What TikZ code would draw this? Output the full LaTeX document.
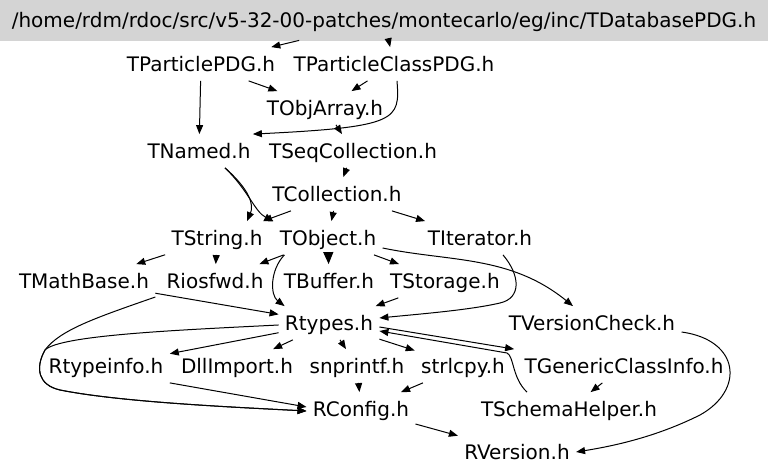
\documentclass[tikz,border=0pt]{standalone}
\usepackage{fontspec}
\setmainfont{DejaVu Sans}
\usetikzlibrary{arrows.meta}

\begin{document}
\begin{tikzpicture}[x=0.5pt, y=-0.5pt,
  font=\fontsize{10pt}{12pt}\selectfont,
  hdr/.style={fill=black!17, draw=black!17, minimum width=384pt, minimum height=20pt, inner sep=0pt, text height=10pt, text depth=2pt},
  inc/.style={minimum height=16.5pt, inner xsep=3pt, inner ysep=0pt, text height=10pt, text depth=2pt},
  arr/.style={-{Triangle[length=4.5pt,width=3.5pt]}, line width=0.5pt},
  fat/.style={-{Triangle[length=6pt,width=5pt]}, line width=0.5pt}]
\useasboundingbox (0,0) rectangle (768,475);
% --- header file
\node[hdr] (root) at (384,20) {/home/rdm/rdoc/src/v5-32-00-patches/montecarlo/eg/inc/TDatabasePDG.h};
% --- included headers, rank by rank
\node[inc] (particle) at (201,64) {TParticlePDG.h};
\node[inc] (partclass) at (394,64) {TParticleClassPDG.h};
\node[inc] (objarray) at (325,108) {TObjArray.h};
\node[inc] (named) at (199,151) {TNamed.h};
\node[inc] (seqcoll) at (353,151) {TSeqCollection.h};
\node[inc] (coll) at (337,194) {TCollection.h};
\node[inc] (string) at (217,238) {TString.h};
\node[inc] (object) at (328,238) {TObject.h};
\node[inc] (iterator) at (480,238) {TIterator.h};
\node[inc] (mathbase) at (84,281) {TMathBase.h};
\node[inc] (iosfwd) at (215,281) {Riosfwd.h};
\node[inc] (buffer) at (329,281) {TBuffer.h};
\node[inc] (storage) at (445,281) {TStorage.h};
\node[inc] (rtypes) at (329,323) {Rtypes.h};
\node[inc] (versioncheck) at (592,323) {TVersionCheck.h};
\node[inc] (typeinfo) at (106,366) {Rtypeinfo.h};
\node[inc] (dllimport) at (237,366) {DllImport.h};
\node[inc] (snprintf) at (357,366) {snprintf.h};
\node[inc] (strlcpy) at (463,366) {strlcpy.h};
\node[inc] (genclass) at (624,366) {TGenericClassInfo.h};
\node[inc] (rconfig) at (361,409) {RConfig.h};
\node[inc] (schema) at (569,409) {TSchemaHelper.h};
\node[inc] (rversion) at (517,452) {RVersion.h};
% --- include edges
\draw[arr] (root) -- (particle);
\draw[arr] (root) -- (partclass);
\draw[arr] (particle) -- (named);
\draw[arr] (particle) -- (objarray);
\draw[arr] (partclass) -- (objarray);
\draw[arr] ([xshift=1.5pt]partclass.south) .. controls (400,120) and (398,127) .. ([xshift=-2pt]named.north east);
\draw[arr] (objarray) -- (seqcoll);
\draw[arr] ([xshift=13pt]named.south) .. controls (250,190) and (254,205) .. ([xshift=15pt]string.north);
\draw[arr] ([xshift=13pt]named.south) .. controls (248,190) and (255,212) .. (object.north west);
\draw[arr] (seqcoll) -- (coll);
\draw[arr] (coll) -- (string);
\draw[arr] (coll) -- (object);
\draw[arr] (coll) -- (iterator);
\draw[arr] (string) -- (mathbase);
\draw[arr] (string) -- (iosfwd);
\draw[arr] (object) -- (iosfwd);
\draw[arr] ([xshift=5.5pt]object.south west) .. controls (270,270) and (270,295) .. ([xshift=3pt]rtypes.north west);
\draw[fat] (object) -- (buffer);
\draw[arr] (object) -- (storage);
\draw[arr] ([yshift=-5pt]object.east) .. controls (450,262) and (510,255) .. ([xshift=-9.5pt]versioncheck.north);
\draw[arr] ([xshift=11.5pt]iterator.south) .. controls (520,275) and (522,298) .. (500,303) .. controls (470,310) and (420,314) .. ([yshift=2.5pt]rtypes.east);
\draw[arr] (storage) -- (rtypes);
\draw[arr] (mathbase) -- (rtypes);
\draw[arr] ([yshift=-8pt]mathbase.east) .. controls (95,318) and (60,330) .. (45,350) .. controls (35,368) and (38,385) .. (60,390) .. controls (120,402) and (230,407) .. ([yshift=-1pt]rconfig.west);
\draw[arr] ([yshift=-1pt]rtypes.west) .. controls (180,330) and (60,335) .. (45,350) .. controls (35,368) and (38,385) .. (60,390) .. controls (120,402) and (230,407) .. ([yshift=-1pt]rconfig.west);
\draw[arr] (rtypes) -- (typeinfo);
\draw[arr] (rtypes) -- (dllimport);
\draw[arr] (rtypes) -- (snprintf);
\draw[arr] (rtypes) -- (strlcpy);
\draw[arr] ([yshift=-2pt]rtypes.east) -- ([xshift=-2pt]genclass.north west);
\draw[arr] ([xshift=-21pt]schema.north) .. controls (512,378) and (514,356) .. (507,353) -- ([yshift=-4pt]rtypes.east);
\draw[arr] (snprintf) -- (rconfig);
\draw[arr] (strlcpy) -- (rconfig);
\draw[arr] (typeinfo.south east) -- ([yshift=1pt]rconfig.west);
\draw[arr] (genclass) -- (schema);
\draw[arr] (rconfig) -- (rversion);
\draw[arr] ([yshift=-4.5pt]versioncheck.east) .. controls (740,340) and (745,390) .. (700,415) .. controls (660,435) and (620,445) .. (rversion.east);
\end{tikzpicture}
\end{document}
